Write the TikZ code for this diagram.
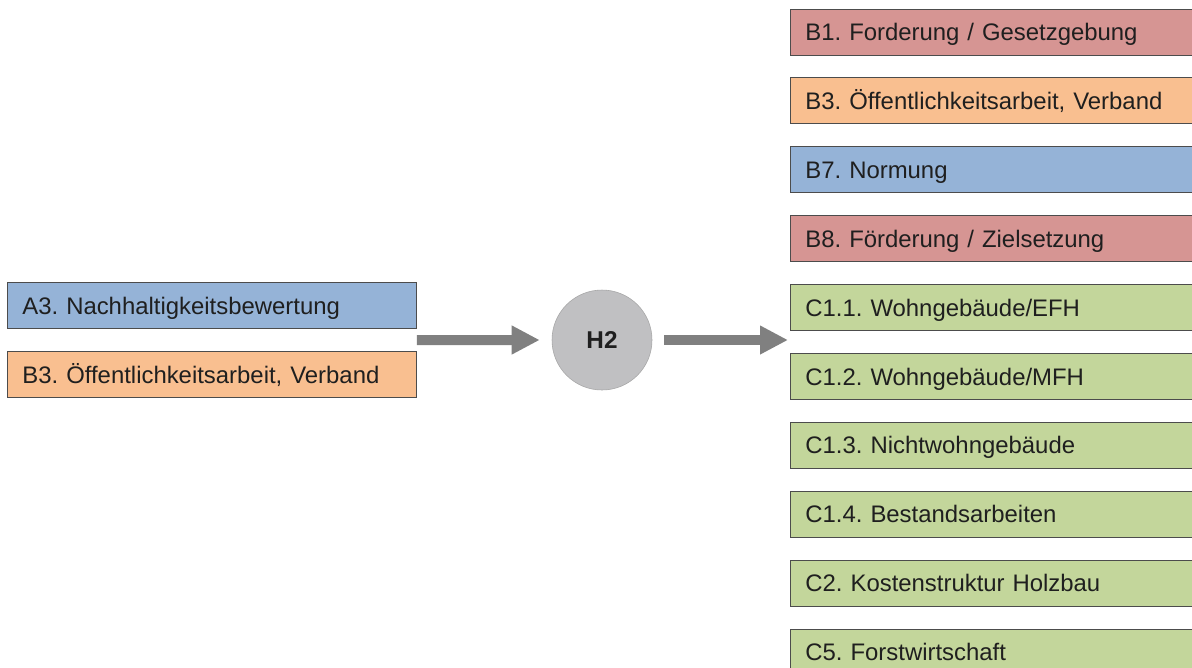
\documentclass[tikz,border=0pt]{standalone}
\usepackage{fontspec}
\setmainfont{Liberation Sans}
\usepackage{tikz}
\usetikzlibrary{positioning, arrows.meta, calc}
\frenchspacing
\definecolor{boxblue}{HTML}{95B3D7}
\definecolor{boxorange}{HTML}{F9BF90}
\definecolor{boxred}{HTML}{D69593}
\definecolor{boxgreen}{HTML}{C3D69B}
\definecolor{hubgray}{HTML}{C0C0C2}
\definecolor{arrowgray}{HTML}{808080}
\tikzset{
  topic/.style={draw=black!70, line width=0.6pt, minimum height=1.15cm,
    text width=9.5cm, inner xsep=0.375cm, align=left, text=black!88,
    text height=12.2pt, text depth=0pt,
    font=\fontsize{17pt}{20pt}\selectfont},
  lefttopic/.style={topic, text width=9.475cm},
  righttopic/.style={topic, text width=9.55cm},
  hub/.style={circle, draw=black!35, fill=hubgray, minimum size=2.5cm,
    font=\fontsize{17.3pt}{20pt}\selectfont\bfseries, text=black!88},
  bigarrow/.style={-{Triangle[length=0.7cm, width=0.675cm]}, line width=0.25cm, arrowgray}
}

\begin{document}
\begin{tikzpicture}
    \useasboundingbox (0,0) rectangle (29.8,-16.675);
    \clip (0,0) rectangle (29.8,-16.675);
    % inputs
    \node[lefttopic, fill=boxblue, anchor=west]   (a3)  at (0.175,-7.6375) {A3. Nachhaltigkeitsbewertung};
    \node[lefttopic, fill=boxorange, below=0.554cm of a3] (b3l) {B3. Öffentlichkeitsarbeit, Verband};
    \node[hub] (h2) at (15.05,-8.5) {H2};
    % outputs
    \node[righttopic, fill=boxred, anchor=west] (b1) at (19.75,-0.8) {B1. Forderung / Gesetzgebung};
    \node[righttopic, fill=boxorange, below=0.551cm of b1]  (b3r) {B3. Öffentlichkeitsarbeit, Verband};
    \node[righttopic, fill=boxblue,   below=0.551cm of b3r] (b7)  {B7. Normung};
    \node[righttopic, fill=boxred,    below=0.551cm of b7]  (b8)  {B8. Förderung / Zielsetzung};
    \node[righttopic, fill=boxgreen,  below=0.551cm of b8]  (c11) {C1.1. Wohngebäude/EFH};
    \node[righttopic, fill=boxgreen,  below=0.551cm of c11] (c12) {C1.2. Wohngebäude/MFH};
    \node[righttopic, fill=boxgreen,  below=0.551cm of c12] (c13) {C1.3. Nichtwohngebäude};
    \node[righttopic, fill=boxgreen,  below=0.551cm of c13] (c14) {C1.4. Bestandsarbeiten};
    \node[righttopic, fill=boxgreen,  below=0.551cm of c14] (c2)  {C2. Kostenstruktur Holzbau};
    \node[righttopic, fill=boxgreen,  below=0.551cm of c2]  (c5)  {C5. Forstwirtschaft};
    \coordinate (lin)  at ($(a3.south east)!0.5!(b3l.north east)$);
    \coordinate (rout) at ($(c11.south west)!0.5!(c12.north west)+(-0.05,0)$);
    \draw[bigarrow, shorten >=0.3cm] (lin) -- (h2);
    \draw[bigarrow, shorten <=0.3cm] (h2) -- (h2 -| rout);
\end{tikzpicture}
\end{document}
